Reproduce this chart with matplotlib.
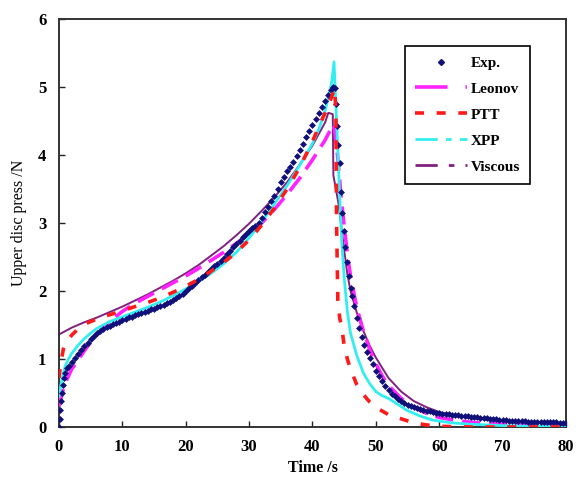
import matplotlib
matplotlib.use("Agg")
import matplotlib.pyplot as plt
from matplotlib.lines import Line2D

plt.rcParams['font.family'] = ['Liberation Serif', 'DejaVu Serif']

# Measured upper-disc force
exp_t = [0, 0.1, 0.2, 0.3, 0.4, 0.6, 0.8, 1.0, 1.3, 1.6, 2.0, 2.5, 3.0, 3.5, 4.0, 4.5,
         5.0, 5.5, 6.0, 6.5, 7.0, 7.5, 8.0, 8.5, 9.0, 9.5, 10.0, 10.5, 11.0, 11.5, 12.0,
         12.5, 13.0, 13.5, 14.0, 14.5, 15.0, 15.5, 16.0, 16.5, 17.0, 17.5, 18.0, 18.5,
         19.0, 19.5, 20.0, 20.5, 21.0, 21.5, 22.0, 22.5, 23.0, 23.5, 24.0, 24.5, 25.0,
         25.5, 26.0, 26.5, 27.0, 27.5, 28.0, 28.5, 29.0, 29.5, 30.0, 30.5, 31.0, 31.5,
         32.0, 32.5, 33.0, 33.5, 34.0, 34.5, 35.0, 35.5, 36.0, 36.5, 37.0, 37.5, 38.0,
         38.5, 39.0, 39.5, 40.0, 40.5, 41.0, 41.5, 42.0, 42.5, 43.0, 43.3, 43.5, 43.7,
         43.9, 44.1, 44.3, 44.5, 44.7, 44.9, 45.1, 45.4, 45.7, 46.0, 46.3, 46.6, 47.0,
         47.4, 47.8, 48.2, 48.6, 49.0, 49.5, 50.0, 50.5, 51.0, 51.5, 52.0, 52.5, 53.0,
         53.5, 54.0, 54.5, 55.0, 55.5, 56.0, 56.5, 57.0, 57.5, 58.0, 58.5, 59.0, 59.5,
         60.0, 60.5, 61.0, 61.5, 62.0, 62.5, 63.0, 63.5, 64.0, 64.5, 65.0, 65.5, 66.0,
         66.5, 67.0, 67.5, 68.0, 68.5, 69.0, 69.5, 70.0, 70.5, 71.0, 71.5, 72.0, 72.5,
         73.0, 73.5, 74.0, 74.5, 75.0, 75.5, 76.0, 76.5, 77.0, 77.5, 78.0, 78.5, 79.0,
         79.5, 80.0]
exp_v = [0.00, 0.12, 0.25, 0.38, 0.50, 0.62, 0.72, 0.80, 0.86, 0.90, 0.95, 1.01, 1.07,
         1.13, 1.19, 1.24, 1.29, 1.34, 1.38, 1.41, 1.44, 1.47, 1.49, 1.51, 1.53, 1.55,
         1.57, 1.59, 1.61, 1.62, 1.64, 1.66, 1.68, 1.69, 1.71, 1.73, 1.74, 1.76, 1.78,
         1.80, 1.82, 1.84, 1.87, 1.90, 1.93, 1.96, 2.00, 2.04, 2.08, 2.12, 2.16, 2.20,
         2.24, 2.28, 2.32, 2.36, 2.40, 2.44, 2.49, 2.54, 2.59, 2.64, 2.69, 2.74, 2.79,
         2.84, 2.88, 2.92, 2.96, 3.00, 3.08, 3.16, 3.24, 3.32, 3.40, 3.50, 3.60, 3.68,
         3.76, 3.83, 3.90, 3.98, 4.07, 4.16, 4.26, 4.35, 4.44, 4.53, 4.62, 4.71, 4.80,
         4.88, 4.95, 5.00, 4.98, 4.75, 4.42, 4.15, 3.88, 3.45, 3.15, 2.88, 2.65, 2.42,
         2.22, 2.05, 1.92, 1.78, 1.60, 1.45, 1.32, 1.20, 1.10, 1.01, 0.92, 0.83, 0.75,
         0.67, 0.60, 0.54, 0.49, 0.45, 0.41, 0.38, 0.35, 0.33, 0.31, 0.29, 0.28, 0.26,
         0.25, 0.24, 0.23, 0.22, 0.21, 0.20, 0.195, 0.19, 0.185, 0.18, 0.175, 0.17,
         0.165, 0.16, 0.155, 0.15, 0.145, 0.14, 0.135, 0.13, 0.125, 0.12, 0.115, 0.11,
         0.105, 0.10, 0.098, 0.095, 0.093, 0.09, 0.088, 0.085, 0.083, 0.08, 0.078,
         0.076, 0.075, 0.073, 0.072, 0.071, 0.07, 0.068, 0.066, 0.064, 0.062,
         0.06]

# Leonov model
leonov_t = [0, 0.5, 1, 2, 3, 4, 5, 6, 8, 10, 12, 14, 16, 18, 20, 22, 24, 26, 28, 30,
            32, 34, 36, 38, 40, 42, 43, 43.3, 43.6, 44, 44.5, 45, 45.5, 46, 47, 48, 49,
            50, 51, 52, 54, 56, 58, 60, 63, 66, 70, 75, 80]
leonov_v = [0.30, 0.50, 0.65, 0.85, 0.98, 1.12, 1.25, 1.36, 1.55, 1.70, 1.82, 1.92,
            2.02, 2.12, 2.22, 2.33, 2.45, 2.57, 2.70, 2.84, 3.00, 3.20, 3.42, 3.66,
            3.93, 4.22, 4.40, 4.45, 4.30, 3.95, 3.40, 2.95, 2.55, 2.22, 1.75, 1.42,
            1.15, 0.93, 0.75, 0.61, 0.42, 0.29, 0.20, 0.14, 0.09, 0.06, 0.04, 0.025,
            0.02]

# PTT model
ptt_t = [0, 0.3, 0.7, 1, 2, 3, 4, 5, 6, 8, 10, 12, 14, 16, 18, 20, 22, 24, 26, 28, 30,
         32, 34, 36, 38, 40, 41, 42, 43, 43.5, 43.7, 43.8, 44.0, 44.3, 44.6, 45, 45.5,
         46, 47, 48, 49, 50, 52, 54, 56, 58, 60, 65, 70, 75, 80]
ptt_v = [0.72, 0.95, 1.15, 1.22, 1.35, 1.44, 1.51, 1.55, 1.59, 1.65, 1.71, 1.77, 1.83,
         1.90, 1.98, 2.07, 2.17, 2.29, 2.42, 2.57, 2.75, 2.97, 3.22, 3.50, 3.82, 4.20,
         4.42, 4.62, 4.85, 4.98, 4.60, 3.00, 1.87, 1.60, 1.47, 1.20, 1.00, 0.85, 0.62,
         0.48, 0.37, 0.29, 0.18, 0.12, 0.06, 0.03, 0.01, 0.0, 0.0, 0.0, 0.0]

# XPP model
xpp_t = [0, 0.3, 0.7, 1, 1.5, 2, 3, 4, 5, 6, 8, 10, 12, 14, 16, 18, 20, 22, 24, 26, 28,
         30, 32, 34, 36, 38, 40, 41, 42, 43, 43.4, 43.8, 44.2, 44.6, 45, 45.5, 46, 47,
         48, 49, 50, 51, 52, 53, 55, 57, 59, 62, 65, 70, 75, 80]
xpp_v = [0.45, 0.62, 0.80, 0.90, 1.00, 1.08, 1.20, 1.30, 1.38, 1.45, 1.55, 1.62, 1.69,
         1.76, 1.84, 1.93, 2.03, 2.14, 2.26, 2.40, 2.57, 2.78, 3.02, 3.28, 3.55, 3.85,
         4.17, 4.38, 4.65, 5.05, 5.37, 4.50, 3.60, 2.75, 2.20, 1.70, 1.38, 1.05, 0.80,
         0.64, 0.52, 0.46, 0.42, 0.36, 0.24, 0.16, 0.10, 0.06, 0.04, 0.02, 0.01, 0.01]

# Viscous model
visc_t = [0, 2, 4, 6, 8, 10, 12, 14, 16, 18, 20, 22, 24, 26, 28, 30, 32, 34, 36, 38, 40,
          42, 42.5, 43.2, 43.3, 44.1, 45, 45.5, 46, 47, 48, 49, 50, 52, 54, 56, 58, 60,
          63, 66, 70, 75, 80]
visc_v = [1.36, 1.46, 1.54, 1.61, 1.69, 1.77, 1.86, 1.95, 2.05, 2.15, 2.26, 2.38, 2.52,
          2.66, 2.82, 2.99, 3.18, 3.38, 3.60, 3.86, 4.14, 4.48, 4.62, 4.60, 3.70, 3.29,
          2.60, 2.25, 2.00, 1.68, 1.42, 1.20, 1.02, 0.72, 0.52, 0.38, 0.29, 0.22, 0.16,
          0.12, 0.09, 0.07, 0.05]

x_ticks = [0, 10, 20, 30, 40, 50, 60, 70, 80]
y_ticks = [0, 1, 2, 3, 4, 5, 6]

NAVY = '#10107a'
MAGENTA = '#ff22ff'
RED = '#ff1a1a'
CYAN = '#33eef0'
PURPLE = '#80207f'

fig = plt.figure(figsize=(5.76, 4.83), dpi=100)
ax = fig.add_axes([0.1024, 0.116, 0.8802, 0.8447])

ax.plot(visc_t, visc_v, color=PURPLE, lw=1.4, zorder=2)
ax.plot(leonov_t, leonov_v, color=MAGENTA, lw=2.6, linestyle=(0, (5, 2.5)), zorder=3)
ax.plot(xpp_t, xpp_v, color=CYAN, lw=2.0, zorder=3)
ax.plot(exp_t, exp_v, linestyle='none', marker='D', ms=3.0, color=NAVY,
        markeredgewidth=0.5, zorder=4)
ax.plot(ptt_t, ptt_v, color=RED, lw=2.6, linestyle=(0, (2.5, 3.5)), zorder=5)

ax.set_xlim(0, 80)
ax.set_ylim(0, 6)
ax.set_xticks(x_ticks)
ax.set_yticks(y_ticks)
ax.tick_params(direction='in', length=4, width=1, colors='#222222', pad=9)
for lab in ax.get_xticklabels() + ax.get_yticklabels():
    lab.set_fontsize(12)
    lab.set_fontweight('bold')
    lab.set_color('black')
for sp in ax.spines.values():
    sp.set_linewidth(1.4)
    sp.set_color('#333333')

ax.set_xlabel('Time /s', fontsize=11.5, fontweight='bold', labelpad=3)
ax.set_ylabel('Upper disc press /N', fontsize=11.5, labelpad=8)

handles = [
    Line2D([], [], linestyle='none', marker='D', ms=3.0, color=NAVY),
    Line2D([], [], color=MAGENTA, lw=2.6, linestyle=(0, (9, 5, 2, 3))),
    Line2D([], [], color=RED, lw=2.6, linestyle=(0, (2.5, 3.5))),
    Line2D([], [], color=CYAN, lw=2.0, linestyle=(0, (8, 3, 2, 3))),
    Line2D([], [], color=PURPLE, lw=2.0, linestyle=(0, (8, 4, 2, 4, 2, 4))),
]
labels = ['Exp.', 'Leonov', 'PTT', 'XPP', 'Viscous']
leg = ax.legend(handles, labels, loc='upper right', bbox_to_anchor=(0.93, 0.935),
                frameon=True, fancybox=False, edgecolor='black', framealpha=1,
                handlelength=3.4, handletextpad=0.2, labelspacing=0.8,
                borderpad=0.7, borderaxespad=0.0,
                prop={'family': 'Liberation Serif', 'weight': 'bold', 'size': 11})
leg.get_frame().set_linewidth(1.2)

fig.savefig('out.png', dpi=100)
